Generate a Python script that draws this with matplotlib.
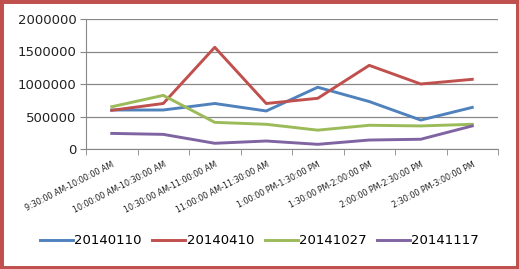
import matplotlib
matplotlib.use('Agg')
from matplotlib import pyplot as plt
from matplotlib.patches import Rectangle
import numpy as np

times = ['9:30:00 AM-10:00:00 AM', '10:00:00 AM-10:30:00 AM', '10:30:00 AM-11:00:00 AM',
         '11:00:00 AM-11:30:00 AM', '1:00:00 PM-1:30:00 PM', '1:30:00 PM-2:00:00 PM',
         '2:00:00 PM-2:30:00 PM', '2:30:00 PM-3:00:00 PM']
s20140110 = [600000, 600000, 700000, 585000, 950000, 730000, 445000, 640000]
s20140410 = [595000, 700000, 1565000, 700000, 780000, 1287000, 1000000, 1072000]
s20141027 = [650000, 825000, 410000, 380000, 290000, 365000, 355000, 380000]
s20141117 = [240000, 225000, 88000, 123000, 72000, 138000, 150000, 355000]
names = ['20140110', '20140410', '20141027', '20141117']
colors = ['#4F81BD', '#C0504D', '#9BBB59', '#8064A2']

plt.rcParams['font.family'] = 'DejaVu Sans'

fig = plt.figure(figsize=(5.19, 2.69), dpi=100)
ax = fig.add_axes([86/519, 1-149/269, (498-86)/519, 130/269])

x = np.arange(len(times))
for s, n, c in zip([s20140110, s20140410, s20141027, s20141117], names, colors):
    ax.plot(x, s, color=c, lw=2.1, label=n)

ax.set_xlim(-0.5, len(times)-0.5)
ax.set_ylim(0, 2000000)
ax.set_yticks([0, 500000, 1000000, 1500000, 2000000])
ax.set_yticklabels(['0', '500000', '1000000', '1500000', '2000000'], fontsize=9.5, color='#222222')
ax.yaxis.grid(True, color='#888888', lw=0.9)
ax.set_axisbelow(True)

ax.set_xticks(x)
ax.set_xticklabels(times, fontsize=5.8, rotation=27, ha='right', va='top',
                   rotation_mode='anchor', color='#222222')
ax.tick_params(axis='x', length=0, pad=8)
ax.set_xticks(np.arange(-0.5, len(times)), minor=True)
ax.tick_params(axis='x', which='minor', length=4, color='#888888', direction='out')
ax.tick_params(axis='y', length=4, color='#888888', pad=3)

for side in ['top', 'right']:
    ax.spines[side].set_visible(False)
ax.spines['left'].set_color('#888888')
ax.spines['bottom'].set_color('#888888')

fig.legend(loc='center', bbox_to_anchor=(0.5, 1-241/269), ncol=4, frameon=False,
           fontsize=9.5, handlelength=2.5, handletextpad=0.1, columnspacing=0.8)

fig.patches.append(Rectangle((0, 0), 1, 1, transform=fig.transFigure, fill=False,
                             edgecolor='#C0504D', lw=5))

fig.savefig('out.png', dpi=100)
